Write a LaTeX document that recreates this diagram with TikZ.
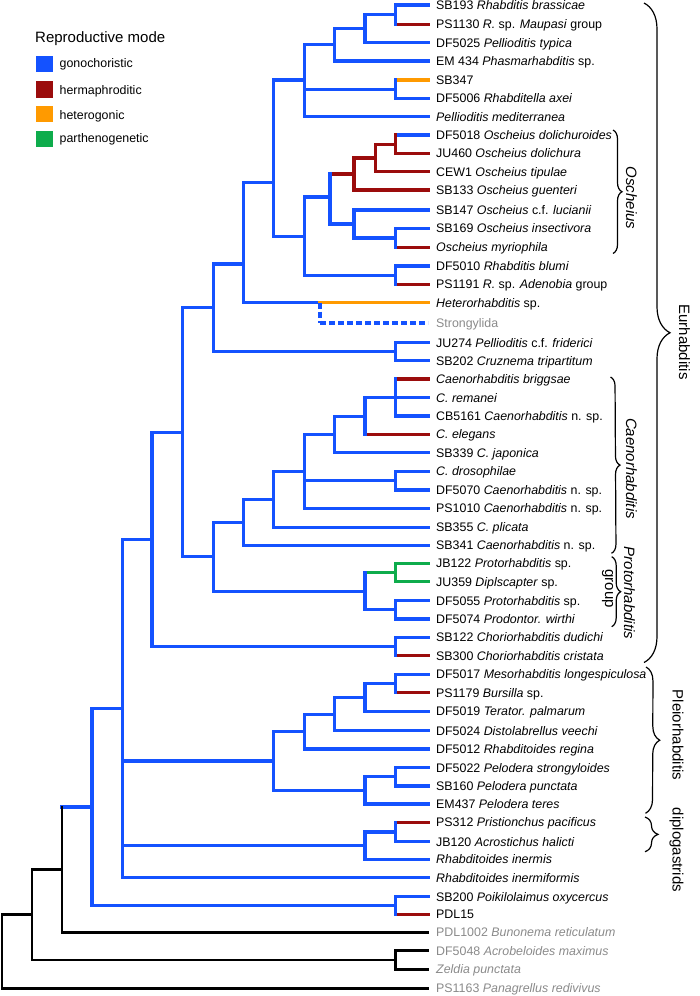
\documentclass[tikz,border=0pt]{standalone}
\usepackage{fontspec}
\setmainfont{Liberation Sans}
\usetikzlibrary{decorations.pathreplacing}
\definecolor{cgon}{RGB}{20,82,255}
\definecolor{cher}{RGB}{155,12,12}
\definecolor{chet}{RGB}{255,154,0}
\definecolor{cpar}{RGB}{14,172,76}
\definecolor{cgray}{RGB}{138,138,138}
\newcommand\LF{\fontsize{12.4}{14}\selectfont}
\newcommand\BF{\fontsize{15}{18}\selectfont}
\newcommand\Leaf[4]{\coordinate (#1) at (428,#2); \node[#4] (t#1) at ([shift={(8pt,-4.4pt)}]#1) {#3};}
\newcommand\HB[3]{\draw[#1] (#2 |- #3) -- (#3);}
\newcommand\VB[4]{\draw[#1] (#2 |- #3) -- (#2 |- #4);}
\begin{document}
\begin{tikzpicture}[x=1pt,y=-1pt,
  br/.style={line width=3.2pt,line cap=rect},
  bblue/.style={br,draw=cgon},
  bred/.style={br,draw=cher},
  borange/.style={br,draw=chet},
  bgreen/.style={br,draw=cpar},
  bblack/.style={br,draw=black,line width=2.8pt},
  bdash/.style={draw=cgon,line width=3.2pt,dash pattern=on 6pt off 3pt},
  leaf/.style={anchor=base west,inner sep=0pt,font=\LF,text=black},
  gleaf/.style={leaf,text=cgray},
  bracestyle/.style={draw=black,line width=1.2pt,decorate,decoration={brace,amplitude=#1}},
  blabel/.style={rotate=-90,anchor=base,inner sep=0pt,font=\BF},
  legsq/.style={minimum width=17.3pt,minimum height=16.4pt,inner sep=0pt,draw=none}]
\useasboundingbox (0,0) rectangle (700,996);

% legend
\node[anchor=base west,inner sep=0pt,font=\BF] (legt) at (35,42.3) {Reproductive mode};
\node[legsq,fill=cgon] (sq1) at (44.7,64.2) {};
\node[legsq,fill=cher] (sq2) at (44.7,89.4) {};
\node[legsq,fill=chet] (sq3) at (44.7,113.7) {};
\node[legsq,fill=cpar] (sq4) at (44.7,139.2) {};
\node[leaf] (lg1) at (59.5,67.3) {gonochoristic};
\node[leaf] (lg2) at (59.5,94) {hermaphroditic};
\node[leaf] (lg3) at (59.5,119) {heterogonic};
\node[leaf] (lg4) at (59.5,142.7) {parthenogenetic};

% leaves
\Leaf{l1}{5}{SB193 \textit{Rhabditis brassicae}}{leaf}
\Leaf{l2}{24.3}{PS1130 \textit{R.} sp. \textit{Maupasi} group}{leaf}
\Leaf{l3}{42.7}{DF5025 \textit{Pellioditis typica}}{leaf}
\Leaf{l4}{61}{EM 434 \textit{Phasmarhabditis} sp.}{leaf}
\Leaf{l5}{80}{SB347}{leaf}
\Leaf{l6}{98.3}{DF5006 \textit{Rhabditella axei}}{leaf}
\Leaf{l7}{116.7}{\textit{Pellioditis mediterranea}}{leaf}
\Leaf{l8}{135}{DF5018 \textit{Oscheius dolichuroides}}{leaf}
\Leaf{l9}{153.3}{JU460 \textit{Oscheius dolichura}}{leaf}
\Leaf{l10}{171.7}{CEW1 \textit{Oscheius tipulae}}{leaf}
\Leaf{l11}{190}{SB133 \textit{Oscheius guenteri}}{leaf}
\Leaf{l12}{210}{SB147 \textit{Oscheius} c.f. \textit{lucianii}}{leaf}
\Leaf{l13}{228.5}{SB169 \textit{Oscheius insectivora}}{leaf}
\Leaf{l14}{247.5}{\textit{Oscheius myriophila}}{leaf}
\Leaf{l15}{266}{DF5010 \textit{Rhabditis blumi}}{leaf}
\Leaf{l16}{284.5}{PS1191 \textit{R.} sp. \textit{Adenobia} group}{leaf}
\Leaf{l17}{302.7}{\textit{Heterorhabditis} sp.}{leaf}
\Leaf{l18}{323}{Strongylida}{gleaf}
\Leaf{l19}{342.7}{JU274 \textit{Pellioditis} c.f. \textit{friderici}}{leaf}
\Leaf{l20}{360.7}{SB202 \textit{Cruznema tripartitum}}{leaf}
\Leaf{l21}{379}{\textit{Caenorhabditis briggsae}}{leaf}
\Leaf{l22}{397.7}{\textit{C. remanei}}{leaf}
\Leaf{l23}{416}{CB5161 \textit{Caenorhabditis} n. sp.}{leaf}
\Leaf{l24}{434.5}{\textit{C. elegans}}{leaf}
\Leaf{l25}{452.7}{SB339 \textit{C. japonica}}{leaf}
\Leaf{l26}{471.5}{\textit{C. drosophilae}}{leaf}
\Leaf{l27}{490}{DF5070 \textit{Caenorhabditis} n. sp.}{leaf}
\Leaf{l28}{508.3}{PS1010 \textit{Caenorhabditis} n. sp.}{leaf}
\Leaf{l29}{527.3}{SB355 \textit{C. plicata}}{leaf}
\Leaf{l30}{545.5}{SB341 \textit{Caenorhabditis} n. sp.}{leaf}
\Leaf{l31}{563.3}{JB122 \textit{Protorhabditis} sp.}{leaf}
\Leaf{l32}{581.7}{JU359 \textit{Diplscapter} sp.}{leaf}
\Leaf{l33}{600.7}{DF5055 \textit{Protorhabditis} sp.}{leaf}
\Leaf{l34}{619}{DF5074 \textit{Prodontor. wirthi}}{leaf}
\Leaf{l35}{637.3}{SB122 \textit{Choriorhabditis dudichi}}{leaf}
\Leaf{l36}{655.7}{SB300 \textit{Choriorhabditis cristata}}{leaf}
\Leaf{l37}{674.3}{DF5017 \textit{Mesorhabditis longespiculosa}}{leaf}
\Leaf{l38}{692.7}{PS1179 \textit{Bursilla} sp.}{leaf}
\Leaf{l39}{711.5}{DF5019 \textit{Terator. palmarum}}{leaf}
\Leaf{l40}{730.7}{DF5024 \textit{Distolabrellus veechi}}{leaf}
\Leaf{l41}{749}{DF5012 \textit{Rhabditoides regina}}{leaf}
\Leaf{l42}{767.7}{DF5022 \textit{Pelodera strongyloides}}{leaf}
\Leaf{l43}{786}{SB160 \textit{Pelodera punctata}}{leaf}
\Leaf{l44}{804}{EM437 \textit{Pelodera teres}}{leaf}
\Leaf{l45}{822.3}{PS312 \textit{Pristionchus pacificus}}{leaf}
\Leaf{l46}{841.7}{JB120 \textit{Acrostichus halicti}}{leaf}
\Leaf{l47}{859.3}{\textit{Rhabditoides inermis}}{leaf}
\Leaf{l48}{877.7}{\textit{Rhabditoides inermiformis}}{leaf}
\Leaf{l49}{896.7}{SB200 \textit{Poikilolaimus oxycercus}}{leaf}
\Leaf{l50}{914.3}{PDL15}{leaf}
\Leaf{l51}{932.3}{PDL1002 \textit{Bunonema reticulatum}}{gleaf}
\Leaf{l52}{950.7}{DF5048 \textit{Acrobeloides maximus}}{gleaf}
\Leaf{l53}{969.3}{\textit{Zeldia punctata}}{gleaf}
\Leaf{l54}{988.3}{PS1163 \textit{Panagrellus redivivus}}{gleaf}

% internal nodes
\coordinate (a1) at (395.7,14.65);
\coordinate (a2) at (365,28.7);
\coordinate (a3) at (334.3,44.85);
\coordinate (a4) at (395.7,89.15);
\coordinate (E) at (304.5,80);
\coordinate (o1) at (395.7,144.15);
\coordinate (o2) at (375.7,157.9);
\coordinate (o3) at (354,173.95);
\coordinate (o4) at (395.7,238);
\coordinate (o5) at (354,224);
\coordinate (o6) at (330,197);
\coordinate (b1) at (395.7,275.25);
\coordinate (M) at (304.5,236.1);
\coordinate (N) at (273.5,182.7);
\coordinate (h1) at (320,302.7);
\coordinate (Z) at (243.3,264);
\coordinate (c1) at (395.7,351.7);
\coordinate (Y) at (213.3,307.85);
\coordinate (q1) at (395.7,397.7);
\coordinate (q2) at (365,416.1);
\coordinate (q3) at (334.3,434.4);
\coordinate (q4) at (395.7,480.75);
\coordinate (q5) at (304.5,471.35);
\coordinate (q6) at (273.5,499.3);
\coordinate (q7) at (243.3,522.4);
\coordinate (p1) at (395.7,572.5);
\coordinate (p2) at (395.7,609.85);
\coordinate (p3) at (365,591.2);
\coordinate (W) at (213.3,556.8);
\coordinate (X) at (182.7,432.3);
\coordinate (ch) at (395.7,646.5);
\coordinate (V) at (152,539.4);
\coordinate (m1) at (395.7,683.5);
\coordinate (m2) at (365,697.5);
\coordinate (m3) at (334.3,714.1);
\coordinate (m4) at (304.5,731.55);
\coordinate (pe1) at (395.7,776.85);
\coordinate (pe2) at (365,790.4);
\coordinate (R1) at (273.5,761);
\coordinate (d1) at (395.7,832);
\coordinate (d2) at (365,845.65);
\coordinate (U) at (122.7,708.55);
\coordinate (s1) at (395.7,905.5);
\coordinate (G) at (92,807);
\coordinate (K1) at (62,869.65);
\coordinate (z1) at (395.7,960);
\coordinate (K2) at (32,914.8);
\coordinate (rt) at (2,951);

% horizontal branches
\HB{bblue}{a1}{l1} \HB{bred}{a1}{l2} \HB{bblue}{a2}{a1} \HB{bblue}{a2}{l3}
\HB{bblue}{a3}{a2} \HB{bblue}{a3}{l4} \HB{borange}{a4}{l5} \HB{bblue}{a4}{l6}
\HB{bblue}{E}{a3} \HB{bblue}{E}{a4} \HB{bblue}{E}{l7}
\HB{bblue}{o1}{l8} \HB{bred}{o1}{l9} \HB{bred}{o2}{o1} \HB{bred}{o2}{l10}
\HB{bred}{o3}{o2} \HB{bred}{o3}{l11} \HB{bred}{o6}{o3}
\HB{bblue}{o4}{l13} \HB{bred}{o4}{l14} \HB{bblue}{o5}{l12} \HB{bblue}{o5}{o4} \HB{bblue}{o6}{o5}
\HB{bblue}{b1}{l15} \HB{bred}{b1}{l16}
\HB{bblue}{M}{o6} \HB{bblue}{M}{b1} \HB{bblue}{N}{E} \HB{bblue}{N}{M}
\HB{bblue}{Z}{h1} \HB{borange}{h1}{l17} \draw[bdash] (h1 |- l18) -- (l18);
\HB{bblue}{Z}{N}
\HB{bblue}{c1}{l19} \HB{bblue}{c1}{l20} \HB{bblue}{Y}{Z} \HB{bblue}{Y}{c1}
\HB{bred}{q1}{l21} \HB{bblue}{q1}{l22} \HB{bblue}{q1}{l23}
\HB{bblue}{q2}{q1} \HB{bred}{q2}{l24} \HB{bblue}{q3}{q2} \HB{bblue}{q3}{l25}
\HB{bblue}{q4}{l26} \HB{bblue}{q4}{l27}
\HB{bblue}{q5}{q3} \HB{bblue}{q5}{q4} \HB{bblue}{q5}{l28}
\HB{bblue}{q6}{q5} \HB{bblue}{q6}{l29} \HB{bblue}{q7}{q6} \HB{bblue}{q7}{l30}
\HB{bgreen}{p1}{l31} \HB{bgreen}{p1}{l32} \HB{bgreen}{p3}{p1}
\HB{bblue}{p2}{l33} \HB{bblue}{p2}{l34} \HB{bblue}{p3}{p2}
\HB{bblue}{W}{q7} \HB{bblue}{W}{p3} \HB{bblue}{X}{Y} \HB{bblue}{X}{W}
\HB{bblue}{ch}{l35} \HB{bred}{ch}{l36} \HB{bblue}{V}{X} \HB{bblue}{V}{ch}
\HB{bblue}{m1}{l37} \HB{bred}{m1}{l38} \HB{bblue}{m2}{m1} \HB{bblue}{m2}{l39}
\HB{bblue}{m3}{m2} \HB{bblue}{m3}{l40} \HB{bblue}{m4}{m3} \HB{bblue}{m4}{l41}
\HB{bblue}{pe1}{l42} \HB{bblue}{pe1}{l43} \HB{bblue}{pe2}{pe1} \HB{bblue}{pe2}{l44}
\HB{bblue}{R1}{m4} \HB{bblue}{R1}{pe2}
\HB{bred}{d1}{l45} \HB{bblue}{d1}{l46} \HB{bblue}{d2}{d1} \HB{bblue}{d2}{l47}
\HB{bblue}{U}{V} \HB{bblue}{U}{R1} \HB{bblue}{U}{d2} \HB{bblue}{U}{l48}
\HB{bblue}{s1}{l49} \HB{bred}{s1}{l50} \HB{bblue}{G}{U} \HB{bblue}{G}{s1}
\HB{bblue}{K1}{G} \HB{bblack}{K1}{l51}
\HB{bblack}{z1}{l52} \HB{bblack}{z1}{l53}
\HB{bblack}{K2}{K1} \HB{bblack}{K2}{z1} \HB{bblack}{rt}{K2} \HB{bblack}{rt}{l54}

% vertical branches
\VB{bblue}{a1}{l1}{l2} \VB{bblue}{a2}{a1}{l3} \VB{bblue}{a3}{a2}{l4}
\VB{bblue}{a4}{l5}{l6} \VB{bblue}{E}{a3}{l7}
\VB{bred}{o1}{l8}{l9} \VB{bred}{o2}{o1}{l10} \VB{bred}{o3}{o2}{l11}
\VB{bblue}{o4}{l13}{l14} \VB{bblue}{o5}{l12}{o4} \VB{bblue}{o6}{o3}{o5}
\VB{bblue}{b1}{l15}{l16} \VB{bblue}{M}{o6}{b1} \VB{bblue}{N}{E}{M}
\draw[bdash] (h1) -- (h1 |- l18);
\VB{bblue}{Z}{N}{h1} \VB{bblue}{c1}{l19}{l20} \VB{bblue}{Y}{Z}{c1}
\VB{bblue}{q1}{l21}{l23} \VB{bblue}{q2}{q1}{l24} \VB{bblue}{q3}{q2}{l25}
\VB{bblue}{q4}{l26}{l27} \VB{bblue}{q5}{q3}{l28} \VB{bblue}{q6}{q5}{l29}
\VB{bblue}{q7}{q6}{l30}
\VB{bgreen}{p1}{l31}{l32} \VB{bblue}{p2}{l33}{l34} \VB{bblue}{p3}{p1}{p2}
\VB{bblue}{W}{q7}{p3} \VB{bblue}{X}{Y}{W} \VB{bblue}{ch}{l35}{l36} \VB{bblue}{V}{X}{ch}
\VB{bblue}{m1}{l37}{l38} \VB{bblue}{m2}{m1}{l39} \VB{bblue}{m3}{m2}{l40}
\VB{bblue}{m4}{m3}{l41} \VB{bblue}{pe1}{l42}{l43} \VB{bblue}{pe2}{pe1}{l44}
\VB{bblue}{R1}{m4}{pe2} \VB{bblue}{d1}{l45}{l46} \VB{bblue}{d2}{d1}{l47}
\VB{bblue}{U}{V}{l48} \VB{bblue}{s1}{l49}{l50} \VB{bblue}{G}{U}{s1}
\VB{bblack}{K1}{G}{l51} \VB{bblack}{z1}{l52}{l53} \VB{bblack}{K2}{K1}{z1}
\VB{bblack}{rt}{K2}{l54}

% braces
\coordinate (osT) at (613,130); \coordinate (osB) at (613,253.5);
\coordinate (caT) at (610.5,377); \coordinate (caB) at (611.5,553.3);
\coordinate (prT) at (611.7,556.7); \coordinate (prB) at (611.7,626.7);
\coordinate (euT) at (644,3); \coordinate (euB) at (644,662.5);
\coordinate (plT) at (646,667); \coordinate (plB) at (645.5,813.3);
\coordinate (diT) at (645,817); \coordinate (diB) at (645,851.7);
\draw[bracestyle=9] (osT) -- (osB);
\draw[bracestyle=9] (caT) -- (caB);
\draw[bracestyle=9] (prT) -- (prB);
\draw[bracestyle=26] (euT) -- (euB);
\draw[bracestyle=14] (plT) -- (plB);
\draw[bracestyle=13] (diT) -- (diB);

\node[blabel] (osL) at (626,198) {\textit{Oscheius}};
\node[blabel] (caL) at (626,468.5) {\textit{Caenorhabditis}};
\node[blabel] (prL) at (624.2,593) {\textit{Protorhabditis}};
\node[blabel] (grL) at (605.2,588.5) {group};
\node[blabel] (euL) at (679,342) {Eurhabditis};
\node[blabel] (plL) at (672.5,735) {Pleiorhabditis};
\node[blabel] (diL) at (672.5,850) {diplogastrids};
\end{tikzpicture}
\end{document}
